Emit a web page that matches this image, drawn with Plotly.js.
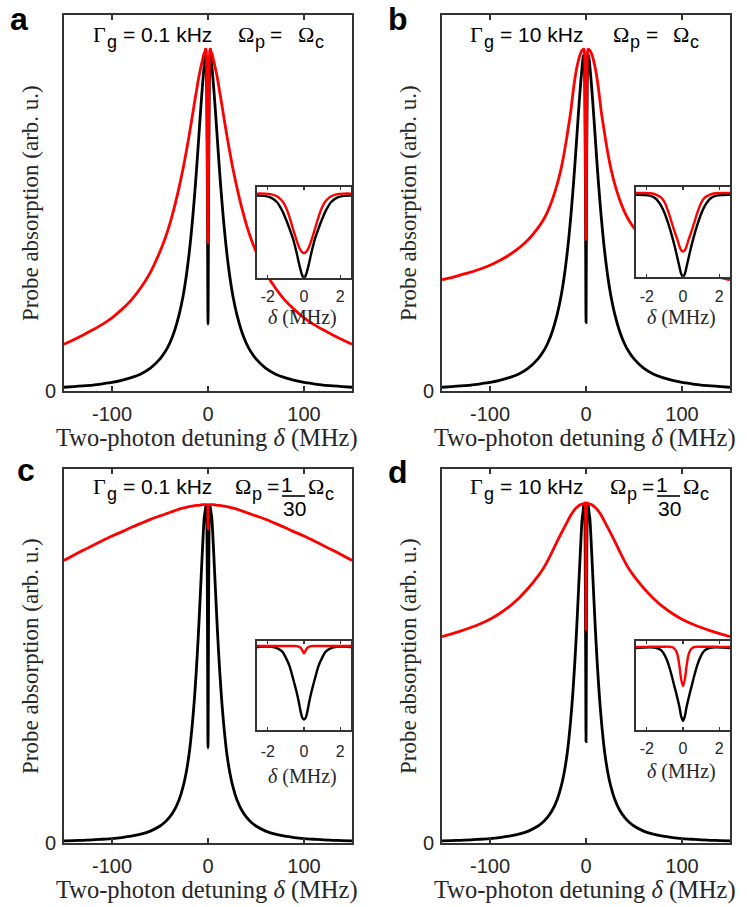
<!DOCTYPE html>
<html><head><meta charset="utf-8">
<script src="https://cdn.plot.ly/plotly-3.0.1.min.js"></script>
<style>html,body{margin:0;padding:0;background:#fff}</style>
</head><body><div id="chart" style="width:747px;height:907px"></div>
<script>
// detuning (MHz), x >= 0 half; curves are symmetric about 0
const detuning = [0, 0.1, 0.2, 0.3, 0.4, 0.5, 0.6, 0.8, 1.0, 1.2, 1.5, 1.8, 2.2, 2.6,
  3, 4, 6, 8, 10, 12, 14, 16, 18, 20, 23, 26, 30, 35, 40, 45, 50,
  60, 70, 80, 90, 100, 110, 120, 130, 140, 150];

const blackA = [0.195,0.22,0.28,0.35,0.43,0.5,0.565,0.665,0.755,0.835,0.92,0.96,0.978,0.982,
  0.976,0.951,0.885,0.808,0.726,0.646,0.572,0.505,0.446,0.394,0.329,0.277,0.224,0.175,0.139,0.113,0.094,
  0.067,0.05,0.039,0.031,0.025,0.021,0.0175,0.015,0.013,0.011];
const redA = [0.434,0.44,0.465,0.5,0.55,0.605,0.66,0.775,0.87,0.93,0.975,0.993,1.0,1.0,
  0.993,0.988,0.965,0.94,0.912,0.878,0.845,0.81,0.775,0.742,0.695,0.65,0.597,0.538,0.487,0.444,0.408,
  0.347,0.302,0.266,0.238,0.214,0.195,0.179,0.164,0.15,0.137];
const blackB = [0.2,0.23,0.3,0.375,0.45,0.52,0.585,0.7,0.8,0.875,0.945,0.972,0.98,0.982,
  0.976,0.951,0.885,0.808,0.726,0.646,0.572,0.505,0.446,0.394,0.329,0.277,0.224,0.175,0.139,0.113,0.094,
  0.067,0.05,0.039,0.031,0.025,0.021,0.0175,0.015,0.013,0.011];
const redB = [0.443,0.455,0.495,0.55,0.6,0.65,0.705,0.815,0.905,0.955,0.985,0.997,1.0,1.0,
  0.999,0.997,0.985,0.966,0.94,0.905,0.862,0.815,0.778,0.742,0.692,0.65,0.605,0.56,0.525,0.498,0.477,
  0.443,0.418,0.398,0.382,0.368,0.357,0.348,0.34,0.332,0.326];
const blackC = [0.28,0.3,0.37,0.46,0.54,0.61,0.675,0.8,0.88,0.94,0.975,0.988,0.99,0.985,
  0.975,0.955,0.85,0.73,0.615,0.515,0.43,0.36,0.302,0.255,0.203,0.165,0.128,0.097,0.076,0.061,0.05,
  0.035,0.026,0.02,0.016,0.013,0.011,0.009,0.008,0.007,0.006];
const redC = [0.924,0.955,0.98,0.99,0.994,0.995,0.995,0.995,0.995,0.995,0.995,0.995,0.995,0.995,
  0.995,0.995,0.995,0.994,0.993,0.993,0.992,0.991,0.99,0.989,0.987,0.985,0.982,0.977,0.972,0.967,0.962,
  0.952,0.94,0.928,0.915,0.903,0.889,0.875,0.861,0.846,0.831];
const blackD = [0.298,0.34,0.43,0.505,0.575,0.64,0.71,0.83,0.915,0.965,0.99,0.995,0.993,0.988,
  0.975,0.955,0.85,0.73,0.615,0.515,0.43,0.36,0.302,0.255,0.203,0.165,0.128,0.097,0.076,0.061,0.05,
  0.035,0.026,0.02,0.016,0.013,0.011,0.009,0.008,0.007,0.006];
const redD = [0.627,0.69,0.82,0.92,0.965,0.985,0.995,1.0,1.0,1.0,1.0,0.999,0.998,0.997,
  0.997,0.997,0.995,0.991,0.986,0.98,0.972,0.963,0.953,0.942,0.926,0.91,0.887,0.858,0.83,0.805,0.785,
  0.75,0.72,0.695,0.675,0.658,0.645,0.634,0.624,0.615,0.607];

const mainTicks = [-100, 0, 100];
const mainTickText = ['-100', '0', '100'];
const insetTicks = [-2, 0, 2];
const insetTickText = ['-2', '0', '2'];
const panelLabels = ['a', 'b', 'c', 'd'];
const gammaValues = ['= 0.1 kHz', '= 10 kHz', '= 0.1 kHz', '= 10 kHz'];
const ratioNum = '1';
const ratioDen = '30';
const xTitle = 'Two-photon detuning <i>δ</i> (MHz)';
const yTitle = 'Probe absorption (arb. u.)';
const insetTitle = '<i>δ</i> (MHz)';

const W = 747, H = 907;
const SANS = 'Liberation Sans, Arial, sans-serif';
const SERIF = 'Liberation Serif, Times New Roman, serif';
const FRAME = '#333333';
const TXT = '#262626';

function mirror(xs, ys) {
  const X = [], Y = [];
  for (let i = xs.length - 1; i > 0; i--) { X.push(-xs[i]); Y.push(ys[i]); }
  for (let i = 0; i < xs.length; i++) { X.push(xs[i]); Y.push(ys[i]); }
  return [X, Y];
}
const fx = (a, b) => [a / W, b / W];
const fy = (top, bottom) => [1 - bottom / H, 1 - top / H];

const panels = [
  {l: 64, r: 352, t: 15, b: 391, black: blackA, red: redA, lab: [9, 0, 'top'],
   inset: {l: 257, r: 351, t: 187, b: 278, y: [0.195, 1.063], so: 3, tt: 39}},
  {l: 442, r: 730, t: 15, b: 391, black: blackB, red: redB, lab: [387, 0, 'top'],
   inset: {l: 636, r: 730, t: 187, b: 277, y: [0.2, 1.057], so: 4, tt: 40}},
  {l: 64, r: 352, t: 469, b: 843, black: blackC, red: redC, lab: [16, 470, 'middle'],
   inset: {l: 257, r: 351, t: 641, b: 730, y: [0.178, 1.044], so: 6, tt: 46}},
  {l: 442, r: 730, t: 469, b: 843, black: blackD, red: redD, lab: [387, 472, 'middle'],
   inset: {l: 636, r: 730, t: 641, b: 730, y: [0.21, 1.054], so: 3, tt: 41}}
];

const traces = [];
const layout = {
  width: W, height: H, margin: {l: 0, r: 0, t: 0, b: 0},
  paper_bgcolor: '#fff', plot_bgcolor: '#fff', showlegend: false,
  annotations: [], shapes: []
};

function ann(text, px, py, font, xanchor, extra) {
  return Object.assign({xref: 'paper', yref: 'paper', x: px / W, y: 1 - py / H, text: text,
    showarrow: false, xanchor: xanchor || 'center', yanchor: 'middle', borderpad: 0, font: font}, extra || {});
}

panels.forEach((p, i) => {
  const n = i + 1, m = i + 5;
  const xa = n === 1 ? 'x' : 'x' + n, ya = n === 1 ? 'y' : 'y' + n;
  const xi = 'x' + m, yi = 'y' + m;
  const [bx, by] = mirror(detuning, p.black);
  const [rx, ry] = mirror(detuning, p.red);
  traces.push({x: bx, y: by, xaxis: xa, yaxis: ya, mode: 'lines', line: {color: '#000', width: 2.8, shape: 'spline', smoothing: 0.8}, hoverinfo: 'skip'});
  traces.push({x: rx, y: ry, xaxis: xa, yaxis: ya, mode: 'lines', line: {color: '#ff0000', width: 2.8, shape: 'spline', smoothing: 0.8}, hoverinfo: 'skip'});
  p.traceData = {bx, by, rx, ry, xi, yi};

  const axKey = n === 1 ? '' : String(n);
  layout['xaxis' + axKey] = {domain: fx(p.l, p.r), range: [-150, 150], anchor: ya,
    tickmode: 'array', tickvals: mainTicks, ticktext: mainTickText, ticks: 'inside', ticklen: 5, tickwidth: 1.5, tickcolor: FRAME,
    showline: true, linecolor: FRAME, linewidth: 2, mirror: 'allticks', showgrid: false, zeroline: false,
    tickfont: {family: SANS, size: 20, color: TXT}, ticklabelstandoff: 4, fixedrange: true};
  layout['yaxis' + axKey] = {domain: fy(p.t, p.b), range: [0, 1.1], anchor: xa,
    tickmode: 'array', tickvals: [0], ticktext: ['0'], ticks: '', showline: true, linecolor: FRAME, linewidth: 2, mirror: true,
    showgrid: false, zeroline: false, tickfont: {family: SANS, size: 20, color: TXT}, ticklabelstandoff: 2, fixedrange: true};

  const q = p.inset;
  layout['xaxis' + m] = {domain: fx(q.l, q.r), range: [-2.6, 2.6], anchor: yi,
    tickmode: 'array', tickvals: insetTicks, ticktext: insetTickText, ticks: 'inside', ticklen: 3, tickwidth: 1.2, tickcolor: FRAME,
    showline: true, linecolor: FRAME, linewidth: 2, mirror: 'allticks', showgrid: false, zeroline: false,
    tickfont: {family: SANS, size: 16, color: TXT}, ticklabelstandoff: q.so, fixedrange: true};
  layout['yaxis' + m] = {domain: fy(q.t, q.b), range: q.y, anchor: xi,
    showticklabels: false, ticks: '', showline: true, linecolor: FRAME, linewidth: 2, mirror: true,
    showgrid: false, zeroline: false, fixedrange: true};

  // titles
  layout.annotations.push(ann(xTitle, (p.l + p.r) / 2 - 1, p.b + 47, {family: SERIF, size: 24.5, color: TXT}));
  layout.annotations.push(ann(yTitle, p.l - 34, (p.t + p.b) / 2, {family: SERIF, size: 23, color: TXT}, 'center', {textangle: -90}));
  layout.annotations.push(ann(insetTitle, (q.l + q.r) / 2 - 2, q.b + q.tt, {family: SERIF, size: 20, color: TXT}));
  // panel label
  const [lx, ly, lanchor] = p.lab;
  layout.annotations.push(ann('<b>' + panelLabels[i] + '</b>', lx, ly, {family: SANS, size: 32, color: '#000'}, 'left', {yanchor: lanchor}));
});

// inset traces after main ones so they are drawn on top
panels.forEach(p => {
  const d = p.traceData;
  traces.push({x: d.bx, y: d.by, xaxis: d.xi, yaxis: d.yi, mode: 'lines', line: {color: '#000', width: 2.4, shape: 'spline', smoothing: 0.8}, hoverinfo: 'skip'});
  traces.push({x: d.rx, y: d.ry, xaxis: d.xi, yaxis: d.yi, mode: 'lines', line: {color: '#ff0000', width: 2.4, shape: 'spline', smoothing: 0.8}, hoverinfo: 'skip'});
});

// parameter labels, drawn piece by piece (absolute px positions of left edges)
const sansF = {family: SANS, size: 21, color: '#000'};
const subF = {family: SANS, size: 18, color: '#000'};
const serifF = {family: SERIF, size: 22, color: '#000'};
const paramPos = [
  {G: 92, g: 105.8, v: 121.5, O: 237, p: 254.3, eq: 269, Oc: 297, c: 314.3, dy: 19},
  {G: 469, g: 482.8, v: 498.5, O: 612, p: 629.3, eq: 645, Oc: 672, c: 689.3, dy: 19},
  {G: 92, g: 105.8, v: 121.5, O: 234, p: 251.3, eq: 266, num: 280, den: 281.5, bar: [282, 305], Oc: 307, c: 324.3, dy: 17},
  {G: 469, g: 482.8, v: 498.5, O: 609, p: 626.3, eq: 641, num: 655, den: 656.5, bar: [657, 680], Oc: 682, c: 699.3, dy: 17}
];
panels.forEach((p, i) => {
  const s = paramPos[i];
  const y0 = p.t + s.dy, ys = y0 + 8;
  const A = layout.annotations;
  A.push(ann('Γ', s.G, y0, serifF, 'left'));
  A.push(ann('g', s.g, ys, subF, 'left'));
  A.push(ann(gammaValues[i], s.v, y0, sansF, 'left'));
  A.push(ann('Ω', s.O, y0, serifF, 'left'));
  A.push(ann('p', s.p, ys, subF, 'left'));
  A.push(ann('=', s.eq, y0, sansF, 'left'));
  A.push(ann('Ω', s.Oc, y0, serifF, 'left'));
  A.push(ann('c', s.c, ys, subF, 'left'));
  if (s.num !== undefined) {
    A.push(ann(ratioNum, s.num, p.t + 15, sansF, 'left'));
    A.push(ann(ratioDen, s.den, p.t + 39.5, sansF, 'left'));
    layout.shapes.push({type: 'line', xref: 'paper', yref: 'paper', x0: s.bar[0] / W, x1: s.bar[1] / W,
      y0: 1 - (p.t + 27) / H, y1: 1 - (p.t + 27) / H, line: {color: '#000', width: 1.6}});
  }
});

Plotly.newPlot('chart', traces, layout, {staticPlot: true, displayModeBar: false});
</script>
</body></html>
